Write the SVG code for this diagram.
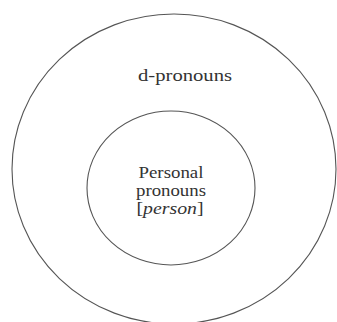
<svg xmlns="http://www.w3.org/2000/svg" width="337" height="322" viewBox="0 0 337 322">
<style>
.ring{fill:none;stroke:#555;stroke-width:1.1}
.t{font-family:"Liberation Serif","Times New Roman",serif;font-size:16px;fill:#333;text-anchor:middle}
</style>
<rect width="337" height="322" fill="#fff"/>
<g id="d-pronouns">
<ellipse class="ring" cx="174" cy="169" rx="162" ry="155"/>
<text class="t" x="185" y="81" textLength="94" lengthAdjust="spacingAndGlyphs">d-pronouns</text>
</g>
<g id="personal-pronouns">
<ellipse class="ring" cx="171" cy="188" rx="84" ry="77"/>
<text class="t" x="171" y="178" textLength="65" lengthAdjust="spacingAndGlyphs">Personal</text>
<text class="t" x="171" y="196" textLength="70" lengthAdjust="spacingAndGlyphs">pronouns</text>
<text class="t" x="170" y="214" textLength="67" lengthAdjust="spacingAndGlyphs">[<tspan font-style="italic">person</tspan>]</text>
</g>
<g id="connectors"/>
</svg>
